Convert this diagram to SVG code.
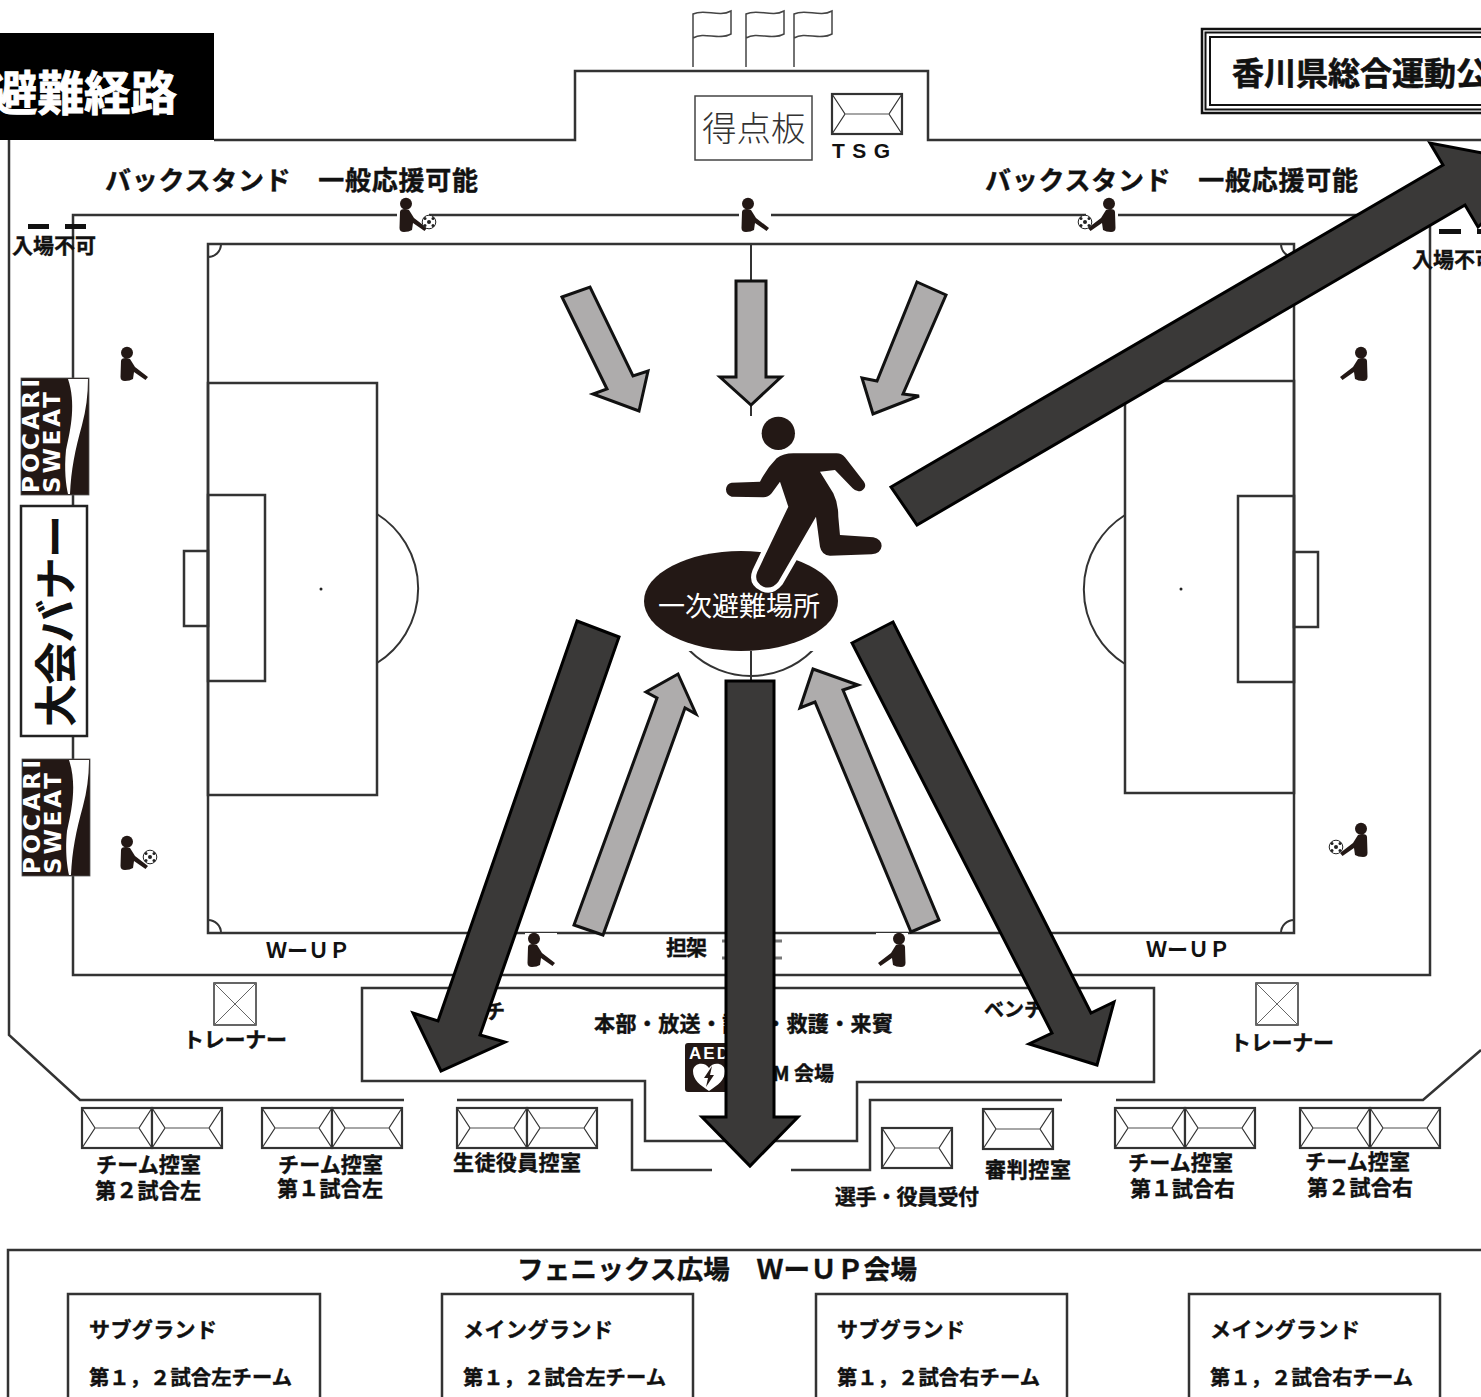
<svg xmlns="http://www.w3.org/2000/svg" width="1481" height="1397" viewBox="0 0 1481 1397">
<style>
.l{fill:none;stroke:#333;stroke-width:2.5}
.t{fill:none;stroke:#333;stroke-width:2}
.b{font-family:"Noto Sans CJK JP","Noto Sans",sans-serif;font-weight:700;fill:#111;stroke:#111;stroke-width:.4}
.lat{font-family:"Liberation Sans","Noto Sans CJK JP",sans-serif;font-weight:700;fill:#111}
.pk{font-family:"DejaVu Sans",sans-serif;font-weight:700;fill:#fff}
.ga{fill:#aeacac;stroke:#111;stroke-width:3;stroke-linejoin:miter}
.da{fill:#3a3938;stroke:#000;stroke-width:3;stroke-linejoin:miter}
.ic{fill:#231815}
</style>
<defs>
<g id="env"><rect x="0" y="0" width="70" height="40" fill="#fff" stroke="#333" stroke-width="2.200"/><path d="M0 0L13 20L0 40M70 0L57 20L70 40" fill="none" stroke="#333" stroke-width="1.200"/><path d="M13 20H57" stroke="#888" stroke-width="1.500"/></g>
<g id="cross"><rect x="0" y="0" width="42" height="42" fill="#fff" stroke="#333" stroke-width="1.500"/><path d="M0 0L42 42M42 0L0 42" stroke="#666" stroke-width="1"/></g>
<g id="sit"><rect x="-2" y="0" width="32" height="35" fill="#fff"/><circle cx="7" cy="5.800" r="6" class="ic"/><path class="ic" d="M.5 30L1 14Q1 11 6 11L10 12L15 20L28 30L25.500 33L14 25L13 32Q10 34 5 34Q.5 34 .5 30Z"/></g>
<g id="ball"><circle r="6.800" fill="#fff" stroke="#222" stroke-width="1"/><circle cx="0" cy="0" r="2" fill="#222"/><circle cx="-4" cy="-3.500" r="1.500" fill="#222"/><circle cx="4" cy="-3.500" r="1.500" fill="#222"/><circle cx="-4" cy="3.500" r="1.500" fill="#222"/><circle cx="4" cy="3.500" r="1.500" fill="#222"/></g>
<g id="poc"><rect x="0" y="0" width="68" height="117" class="ic" stroke="#555" stroke-width=".8"/><path fill="#fff" d="M47 1C55 25 50 50 45 72C43 92 45 107 47 116L49 116C50 92 54 72 61 47C65 32 67 17 67 1Z"/><text transform="translate(18,115) rotate(-90)" font-size="23" class="pk" textLength="114" lengthAdjust="spacing">POCARI</text><text transform="translate(38.500,115) rotate(-90)" font-size="23" class="pk" textLength="101" lengthAdjust="spacing">SWEAT</text></g>
<path id="flag" d="M0 57V4C12 -2 25 8 38 1V24C25 31 12 21 0 28" fill="none" stroke="#444" stroke-width="1.500"/>
<path id="runner" d="M335 248L420 245Q440 205 470 175Q490 160 520 160L650 160Q665 160 675 172L732 245Q742 262 725 272Q710 278 698 265L645 210L600 215L640 280Q655 310 655 350L660 405L760 412Q785 418 785 438Q783 460 755 463L630 467Q605 465 600 440L588 350L475 545Q455 570 430 560Q400 545 412 515L505 320L480 245L455 280Q445 292 430 292L335 290Q318 285 318 268Q320 250 335 248Z"/>
</defs>
<rect width="1481" height="1397" fill="#fff"/>

<g id="stadium-walls">
<path class="l" d="M214 140H575V71H928V140H1481M9 140V1035L80 1100H404M457 1100H632V1170H712M791 1170H870V1100H1062M1116 1100H1423L1481 1050"/>
<path class="l" d="M73 975V215H1430V975Z"/>
<path class="l" d="M362 988H1154V1082H857V1141H645V1081H362Z"/>
<path class="l" d="M8 1397V1250H1481"/>
</g>

<g id="pitch">
<rect class="l" x="208" y="244" width="1086" height="689"/>
<path class="t" d="M208 257A13 13 0 0 0 221 244M1281 244A13 13 0 0 0 1294 257M208 920A13 13 0 0 1 221 933M1294 920A13 13 0 0 0 1281 933"/>
<path class="t" d="M751 244V933"/>
<circle class="t" cx="751" cy="589" r="87"/>
<rect class="l" x="208" y="383" width="169" height="412"/>
<rect class="l" x="208" y="495" width="57" height="186"/>
<rect class="l" x="184" y="551" width="24" height="75"/>
<path class="t" d="M377 514A88 88 0 0 1 377 663"/>
<circle cx="321" cy="589" r="1.500" fill="#222"/>
<rect class="l" x="1125" y="381" width="169" height="412"/>
<rect class="l" x="1238" y="496" width="56" height="186"/>
<rect class="l" x="1294" y="552" width="24" height="75"/>
<path class="t" d="M1125 515A88 88 0 0 0 1125 664"/>
<circle cx="1181" cy="589" r="1.500" fill="#222"/>
</g>

<g id="flags">
<use href="#flag" x="693" y="10"/><use href="#flag" x="746" y="10"/><use href="#flag" x="794" y="10"/>
</g>

<g id="title">
<rect x="-2" y="33" width="216" height="107" fill="#000"/>
<text x="-9" y="110" font-size="46.500" class="b" style="fill:#fff;stroke:#fff;stroke-width:.9">避難経路</text>
</g>
<g id="venue">
<rect x="1202" y="29" width="300" height="84" fill="#fff" stroke="#111" stroke-width="2.500"/>
<rect x="1205.500" y="32.500" width="300" height="77" fill="none" stroke="#111" stroke-width="2"/>
<rect x="1210" y="37" width="300" height="68" fill="none" stroke="#111" stroke-width="2"/>
<text x="1232" y="85" font-size="32" class="b" style="stroke-width:.6">香川県総合運動公</text>
</g>
<g id="scoreboard">
<rect x="695" y="96" width="117" height="64" fill="#fff" stroke="#444" stroke-width="1.500"/>
<text x="702" y="141" font-size="34.500" style="font-family:'Noto Sans CJK JP',sans-serif;font-weight:300;fill:#333">得点板</text>
</g>
<g id="tsg">
<use href="#env" x="832" y="94"/>
<text x="832" y="158" font-size="21" class="lat" textLength="58">TSG</text>
</g>

<g id="labels">
<text x="105" y="190" font-size="26" class="b" textLength="373">バックスタンド　一般応援可能</text>
<text x="985" y="190" font-size="26" class="b" textLength="373">バックスタンド　一般応援可能</text>
<text x="12" y="253" font-size="21" class="b" textLength="84">入場不可</text>
<text x="1412" y="267" font-size="21" class="b">入場不可</text>
<rect x="28" y="224" width="21" height="5" fill="#111"/><rect x="65" y="224" width="21" height="5" fill="#111"/>
<rect x="1439" y="229" width="22" height="5" fill="#111"/><rect x="1477" y="229" width="6" height="5" fill="#111"/>
<text x="266" y="958" font-size="21" class="b" style="stroke-width:0" textLength="84">ＷーＵＰ</text>
<text x="1146" y="957" font-size="21" class="b" style="stroke-width:0" textLength="84">ＷーＵＰ</text>
<text x="666" y="955" font-size="21" class="b" textLength="41">担架</text>
<path d="M722 941H782M722 958H782" stroke="#777" stroke-width="3"/>
<text x="445" y="1019" font-size="20" class="b" textLength="60">ベンチ</text>
<text x="984" y="1017" font-size="20" class="b" textLength="60">ベンチ</text>
<text x="594" y="1031" font-size="21" class="b" textLength="299">本部・放送・記録・救護・来賓</text>
<text x="834" y="1081" font-size="20" class="b" text-anchor="end">TM 会場</text>
<text x="183" y="1047" font-size="21" class="b" textLength="104">トレーナー</text>
<text x="1230" y="1050" font-size="21" class="b" textLength="104">トレーナー</text>
<text x="96" y="1172" font-size="21" class="b" textLength="105">チーム控室</text>
<text x="95" y="1198" font-size="21" class="b" textLength="106">第２試合左</text>
<text x="278" y="1172" font-size="21" class="b" textLength="105">チーム控室</text>
<text x="277" y="1196" font-size="21" class="b" textLength="106">第１試合左</text>
<text x="453" y="1170" font-size="21" class="b" textLength="128">生徒役員控室</text>
<text x="835" y="1204" font-size="21" class="b" textLength="144">選手・役員受付</text>
<text x="985" y="1177" font-size="21" class="b" textLength="86">審判控室</text>
<text x="1128" y="1170" font-size="21" class="b" textLength="105">チーム控室</text>
<text x="1130" y="1196" font-size="21" class="b" textLength="105">第１試合右</text>
<text x="1305" y="1169" font-size="21" class="b" textLength="105">チーム控室</text>
<text x="1307" y="1195" font-size="21" class="b" textLength="106">第２試合右</text>
<text x="517" y="1279" font-size="26.500" class="b" textLength="400">フェニックス広場　ＷーＵＰ会場</text>
</g>

<g id="aed">
<rect x="685" y="1043" width="50" height="49" rx="3" class="ic"/>
<text x="689" y="1059" font-size="17" class="lat" style="fill:#fff" textLength="40">AED</text>
<path fill="#fff" d="M709 1091C700 1085 693 1080 693 1071C693 1063 705 1061 709 1068C713 1061 725 1063 725 1071C725 1080 718 1085 709 1091Z"/>
<path class="ic" d="M712 1066L704 1078L708 1078L706 1087L714 1075L710 1075Z"/>
</g>

<g id="rooms">
<use href="#cross" x="214" y="983"/><use href="#cross" x="1256" y="983"/>
<use href="#env" x="82" y="1108"/><use href="#env" x="152" y="1108"/>
<use href="#env" x="262" y="1108"/><use href="#env" x="332" y="1108"/>
<use href="#env" x="457" y="1108"/><use href="#env" x="527" y="1108"/>
<use href="#env" x="1115" y="1108"/><use href="#env" x="1185" y="1108"/>
<use href="#env" x="1300" y="1108"/><use href="#env" x="1370" y="1108"/>
<use href="#env" x="882" y="1128"/><use href="#env" x="983" y="1109"/>
</g>

<g id="banners">
<use href="#poc" x="21" y="378"/>
<use href="#poc" x="22" y="759"/>
<rect x="21" y="506" width="66" height="230" fill="#fff" stroke="#222" stroke-width="2.500"/>
<text transform="translate(72,727) rotate(-90)" font-size="43" textLength="212" style="font-family:'Noto Sans CJK JP',sans-serif;font-weight:700;fill:#111">大会バナー</text>
</g>

<g id="wup-areas">
<rect class="l" x="68" y="1294" width="252" height="110"/>
<rect class="l" x="442" y="1294" width="251" height="110"/>
<rect class="l" x="816" y="1294" width="251" height="110"/>
<rect class="l" x="1189" y="1294" width="251" height="110"/>
<text x="89" y="1337" font-size="21" class="b" textLength="128">サブグランド</text>
<text x="89" y="1385" font-size="20.300" class="b" textLength="203">第１，２試合左チーム</text>
<text x="463" y="1337" font-size="21" class="b" textLength="150">メイングランド</text>
<text x="463" y="1385" font-size="20.300" class="b" textLength="203">第１，２試合左チーム</text>
<text x="837" y="1337" font-size="21" class="b" textLength="128">サブグランド</text>
<text x="837" y="1385" font-size="20.300" class="b" textLength="203">第１，２試合右チーム</text>
<text x="1210" y="1337" font-size="21" class="b" textLength="150">メイングランド</text>
<text x="1210" y="1385" font-size="20.300" class="b" textLength="203">第１，２試合右チーム</text>
</g>

<g id="people">
<use href="#sit" x="399" y="198"/><use href="#ball" x="429" y="222"/>
<use href="#sit" x="741" y="198"/>
<use href="#sit" transform="translate(1116,198) scale(-1,1)"/><use href="#ball" x="1085" y="222"/>
<use href="#sit" x="120" y="347"/>
<use href="#sit" x="120" y="836"/><use href="#ball" x="150" y="857"/>
<use href="#sit" transform="translate(1368,347) scale(-1,1)"/>
<use href="#sit" transform="translate(1368,823) scale(-1,1)"/><use href="#ball" x="1336" y="847"/>
<use href="#sit" x="527" y="933"/>
<use href="#sit" transform="translate(906,933) scale(-1,1)"/>
</g>

<g id="connectors">
<polygon class="ga" points="562,297 590,287 633,376 648,371 639,411 593,394 607,389"/>
<polygon class="ga" points="736,281 766,281 766,377 781,377 751,405 720,377 736,377"/>
<polygon class="ga" points="917,282 946,295 903,394 919,396 873,414 862,378 877,381"/>
<polygon class="ga" points="574,925 603,935 685,708 696,714 678,674 646,692 657,698"/>
<polygon class="ga" points="939,920 911,932 815,702 800,708 813,669 858,685 843,690"/>
</g>

<g id="primary-shelter">
<rect x="640" y="416" width="245" height="235" fill="#fff"/>
<ellipse cx="741" cy="601" rx="97" ry="50" class="ic"/>
<text x="739" y="616" font-size="27" text-anchor="middle" style="font-family:'Noto Sans CJK JP',sans-serif;font-weight:400;fill:#fff">一次避難場所</text>
<g transform="translate(620,400) scale(.3333)">
<circle cx="475" cy="100" r="50" class="ic"/>
<use href="#runner" fill="none" stroke="#fff" stroke-width="30" stroke-linejoin="round"/>
<use href="#runner" class="ic"/>
</g>
</g>

<g id="evacuation-arrows">
<polygon class="da" points="577,621 619,637 480,1035 505,1042 441,1071 413,1013 438,1021"/>
<polygon class="da" points="726,681 774,681 774,1117 798,1117 750,1166 702,1117 726,1117"/>
<polygon class="da" points="852,643 893,622 1091,1013 1114,1002 1097,1065 1029,1044 1052,1033"/>
<polygon class="da" points="891,487 1443,165 1430,143 1545,165 1478,227 1465,205 917,525"/>
</g>
</svg>
